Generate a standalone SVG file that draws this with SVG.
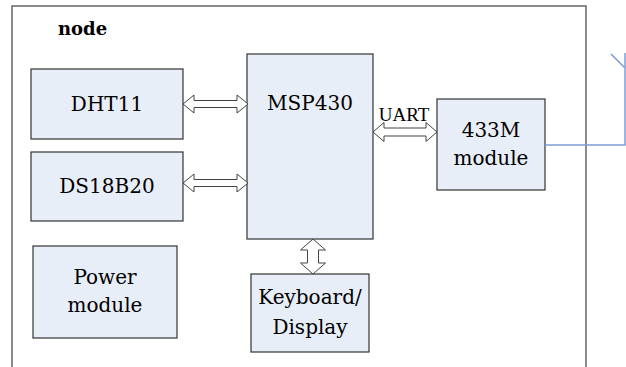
<svg xmlns="http://www.w3.org/2000/svg" width="626" height="367" viewBox="0 0 626 367">
<style>
.box{fill:#e8eef8;stroke:#333;stroke-width:1.2}
.arr{fill:#fff;stroke:#444;stroke-width:1}
.frame{fill:none;stroke:#666;stroke-width:1.5}
.ant{fill:none;stroke:#7b9fd6;stroke-width:1.5}
.t{font-family:"DejaVu Serif","Liberation Serif",serif;font-size:20px;text-anchor:middle;fill:#000}
</style>
<rect width="626" height="367" fill="#fff"/>
<path class="frame" d="M12,367 V6 H586 V367"/>
<text x="58" y="35" font-family="DejaVu Serif, serif" font-size="18" font-weight="bold">node</text>
<g id="dht11"><rect class="box" x="31" y="69" width="152" height="70"/><text class="t" x="107" y="111">DHT11</text></g>
<g id="ds18b20"><rect class="box" x="31" y="152" width="152" height="69"/><text class="t" x="107" y="193">DS18B20</text></g>
<g id="power"><rect class="box" x="33" y="246" width="144" height="92"/><text class="t" x="105" y="284">Power</text><text class="t" x="105" y="312">module</text></g>
<g id="msp430"><rect class="box" x="247" y="54" width="126" height="185"/><text class="t" x="310" y="110">MSP430</text></g>
<g id="keyboard"><rect class="box" x="251" y="274" width="118" height="78"/><text class="t" x="310" y="304">Keyboard/</text><text class="t" x="310" y="334">Display</text></g>
<g id="m433"><rect class="box" x="437" y="99" width="108" height="91"/><text class="t" x="491" y="137">433M</text><text class="t" x="491" y="165">module</text></g>
<g id="connectors">
<path class="arr" d="M183,104 L194,95 V100.5 H237 V95 L248,104 L237,113 V107.5 H194 V113 Z"/>
<path class="arr" d="M183,183 L194,174 V179.5 H237 V174 L248,183 L237,192 V186.5 H194 V192 Z"/>
<path class="arr" d="M373,132 L384,122.5 V128 H426 V122.5 L437,132 L426,141.5 V136 H384 V141.5 Z"/>
<path class="arr" d="M313,239 L325.5,250 H318.5 V263 H325.5 L313,274 L300.5,263 H307.5 V250 H300.5 Z"/>
<path class="ant" d="M545,145 H625 V53 M611,54 L625,68"/>
<text x="404" y="121" font-family="Liberation Serif, serif" font-size="19" text-anchor="middle">UART</text>
</g>
</svg>
